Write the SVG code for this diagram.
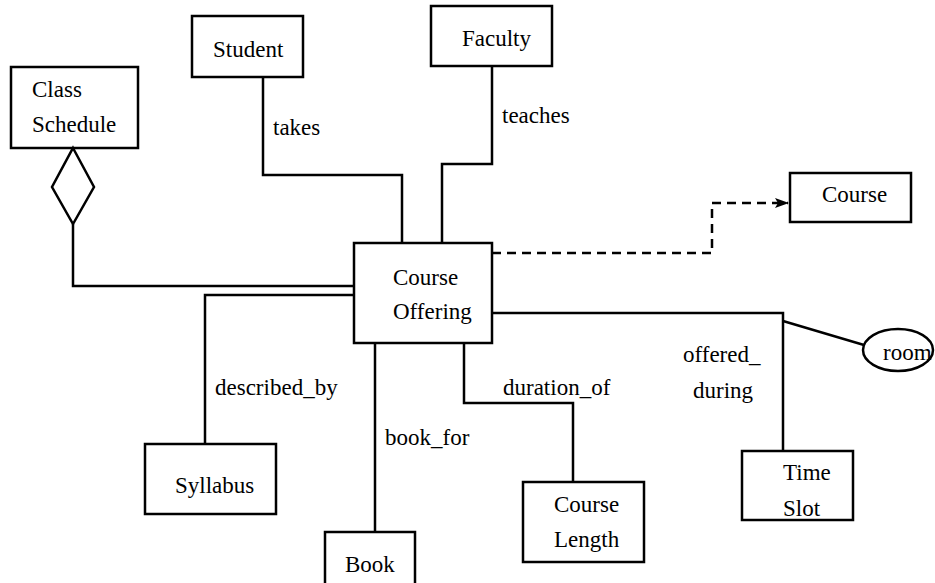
<svg xmlns="http://www.w3.org/2000/svg" width="935" height="583" viewBox="0 0 935 583">
<defs>
<style>
.box{fill:#fff;stroke:#000;stroke-width:2.5}
.ln{fill:none;stroke:#000;stroke-width:2.5}
.dash{fill:none;stroke:#000;stroke-width:2.5;stroke-dasharray:9,6}
text{font-family:"Liberation Serif","Times New Roman",serif;font-size:23px;fill:#000}
</style>
<marker id="arr" markerWidth="14" markerHeight="10" refX="13" refY="5" orient="auto" markerUnits="userSpaceOnUse">
<path d="M0,0 L14,5 L0,10 L3,5 Z" fill="#000"/>
</marker>
</defs>
<rect width="935" height="583" fill="#fff"/>
<g id="connectors">
<polyline class="ln" points="263,77 263,175 402,175 402,243"/>
<polyline class="ln" points="492,66 492,164 442,164 442,243"/>
<polyline class="ln" points="73,224 73,286 354,286"/>
<polyline class="ln" points="354,295 205,295 205,444"/>
<polyline class="ln" points="375,343 375,532"/>
<polyline class="ln" points="464,343 464,403 573,403 573,482"/>
<polyline class="ln" points="492,313 783,313 783,451"/>
<line class="ln" x1="783" y1="321" x2="864" y2="345"/>
<polyline class="dash" points="492,253 712,253 712,203 788,203" marker-end="url(#arr)"/>
<text x="273" y="135">takes</text>
<text x="502" y="123">teaches</text>
<text x="215" y="395">described_by</text>
<text x="503" y="395">duration_of</text>
<text x="385" y="445">book_for</text>
<text x="683" y="362">offered_</text>
<text x="693" y="398">during</text>
</g>
<g id="class-schedule">
<rect class="box" x="11" y="67" width="127" height="81"/>
<text x="32" y="97">Class</text>
<text x="32" y="132">Schedule</text>
<polygon class="box" points="73,148 94,187 73,224 52,187"/>
</g>
<g id="student">
<rect class="box" x="192" y="16" width="111" height="61"/>
<text x="213" y="57">Student</text>
</g>
<g id="faculty">
<rect class="box" x="431" y="6" width="121" height="60"/>
<text x="462" y="46">Faculty</text>
</g>
<g id="course">
<rect class="box" x="790" y="173" width="121" height="49"/>
<text x="822" y="202">Course</text>
</g>
<g id="course-offering">
<rect class="box" x="354" y="243" width="138" height="100"/>
<text x="393" y="285">Course</text>
<text x="393" y="319">Offering</text>
</g>
<g id="room">
<ellipse class="box" cx="898" cy="350" rx="35" ry="21"/>
<text x="883" y="360">room</text>
</g>
<g id="syllabus">
<rect class="box" x="145" y="444" width="131" height="70"/>
<text x="175" y="493">Syllabus</text>
</g>
<g id="book">
<rect class="box" x="325" y="532" width="90" height="60"/>
<text x="345" y="572">Book</text>
</g>
<g id="course-length">
<rect class="box" x="523" y="482" width="121" height="80"/>
<text x="554" y="512">Course</text>
<text x="554" y="547">Length</text>
</g>
<g id="time-slot">
<rect class="box" x="742" y="451" width="111" height="69"/>
<text x="783" y="480">Time</text>
<text x="783" y="516">Slot</text>
</g>
</svg>
